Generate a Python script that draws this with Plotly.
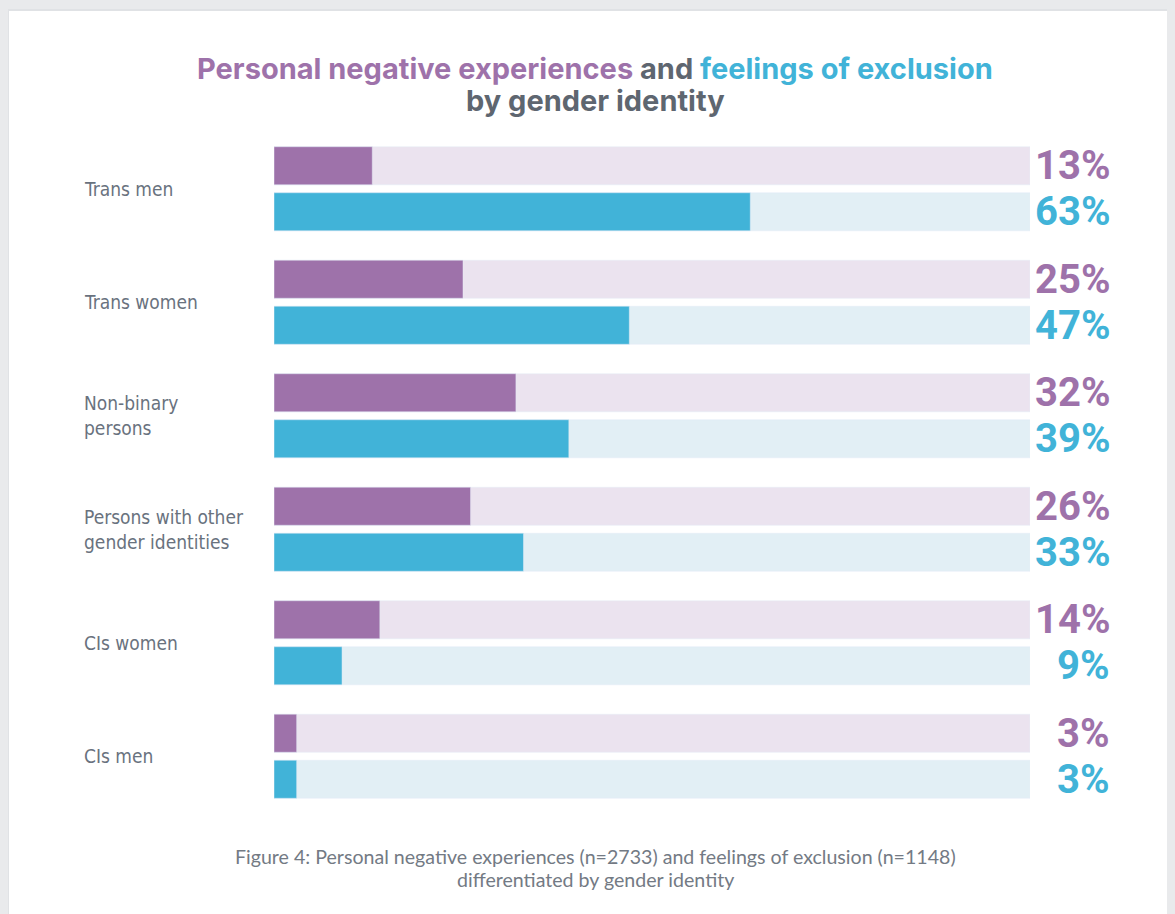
import plotly.graph_objects as go

categories = ["Trans men", "Trans women", "Non-binary<br>persons",
              "Persons with other<br>gender identities", "CIs women", "CIs men"]
negative_experiences = [13, 25, 32, 26, 14, 3]
feelings_of_exclusion = [63, 47, 39, 33, 9, 3]
full_scale = [100] * len(categories)

PURPLE = "#9e72aa"
PURPLE_BG = "#ebe3ef"
BLUE = "#41b3d8"
BLUE_BG = "#e2eff5"
GRAY = "#69727e"
TITLE_GRAY = "#5e6670"
SHADOW = "#e9eaec"

# page body has an 8px margin; target pixel coordinates are screen coordinates
OFF = 8
W, H = 1175 - OFF, 914 - OFF
PL, PR, PT, PB = 274, 1030, 132, 813  # plot area in screen px
ML, MR, MT, MB = PL - OFF, W - (PR - OFF), PT - OFF, H - (PB - OFF)
PW, PH = W - ML - MR, H - MT - MB

def px_x(x):
    return (x - OFF - ML) / PW

def px_y(y):
    return 1 - (y - OFF - MT) / PH

fig = go.Figure()
fig.add_trace(go.Bar(y=categories, x=full_scale, orientation="h", marker_color=PURPLE_BG,
                     offsetgroup="neg", hoverinfo="skip", showlegend=False))
fig.add_trace(go.Bar(y=categories, x=negative_experiences, orientation="h", marker_color=PURPLE,
                     offsetgroup="neg", name="Personal negative experiences", showlegend=False))
fig.add_trace(go.Bar(y=categories, x=full_scale, orientation="h", marker_color=BLUE_BG,
                     offsetgroup="exc", hoverinfo="skip", showlegend=False))
fig.add_trace(go.Bar(y=categories, x=feelings_of_exclusion, orientation="h", marker_color=BLUE,
                     offsetgroup="exc", name="Feelings of exclusion", showlegend=False))

annotations = []
num_font = "Roboto, sans-serif"
label_font = "DejaVu Sans Condensed, DejaVu Sans, sans-serif"
for cat, n, e in zip(categories, negative_experiences, feelings_of_exclusion):
    annotations.append(dict(xref="paper", yref="y", x=px_x(1112), y=cat, yshift=23,
                            xanchor="right", yanchor="middle", showarrow=False,
                            text=f"<b>{n}%</b>", font=dict(family=num_font, size=40, color=PURPLE)))
    annotations.append(dict(xref="paper", yref="y", x=px_x(1112), y=cat, yshift=-23,
                            xanchor="right", yanchor="middle", showarrow=False,
                            text=f"<b>{e}%</b>", font=dict(family=num_font, size=40, color=BLUE)))
    annotations.append(dict(xref="paper", yref="y", x=px_x(82), y=cat,
                            xanchor="left", yanchor="middle", align="left", showarrow=False,
                            text=cat, font=dict(family=label_font, size=19, color=GRAY)))

title_font = "Inter, Lato, sans-serif"
annotations.append(dict(xref="paper", yref="paper", x=px_x(595), y=px_y(69),
                        xanchor="center", yanchor="middle", showarrow=False,
                        text=(f"<span style='color:{PURPLE}'>Personal negative experiences</span> "
                              f"<span style='color:{TITLE_GRAY}'>and</span> "
                              f"<span style='color:{BLUE}'>feelings of exclusion</span>"),
                        font=dict(family=title_font, size=29, weight=700)))
annotations.append(dict(xref="paper", yref="paper", x=px_x(595), y=px_y(100),
                        xanchor="center", yanchor="middle", showarrow=False,
                        text="by gender identity",
                        font=dict(family=title_font, size=29, weight=700, color=TITLE_GRAY)))
cap_font = "Lato, Inter, sans-serif"
annotations.append(dict(xref="paper", yref="paper", x=px_x(595), y=px_y(856),
                        xanchor="center", yanchor="middle", showarrow=False,
                        text="Figure 4: Personal negative experiences (n=2733) and feelings of exclusion (n=1148)",
                        font=dict(family=cap_font, size=19.6, color="#737a84")))
annotations.append(dict(xref="paper", yref="paper", x=px_x(595), y=px_y(879),
                        xanchor="center", yanchor="middle", showarrow=False,
                        text="differentiated by gender identity",
                        font=dict(family=cap_font, size=19.6, color="#737a84")))

shapes = []
shapes.append(dict(type="rect", xref="paper", yref="paper", layer="below",
                   x0=px_x(7), x1=px_x(1200), y0=px_y(950), y1=px_y(9),
                   fillcolor="#e0e2e5", line=dict(width=0)))
shapes.append(dict(type="rect", xref="paper", yref="paper", layer="below",
                   x0=px_x(9), x1=px_x(1200), y0=px_y(950), y1=px_y(11),
                   fillcolor="white", line=dict(width=0)))

fig.update_layout(
    width=W, height=H,
    margin=dict(l=ML, r=MR, t=MT, b=MB),
    paper_bgcolor=SHADOW, plot_bgcolor="rgba(0,0,0,0)",
    barmode="group", bargap=0.189, bargroupgap=0.174,
    xaxis=dict(range=[0, 100], visible=False, fixedrange=True),
    yaxis=dict(autorange="reversed", visible=False, fixedrange=True),
    annotations=annotations, shapes=shapes,
    showlegend=False,
)
fig.write_html("out.html", post_script=f"document.body.style.background='{SHADOW}';")
